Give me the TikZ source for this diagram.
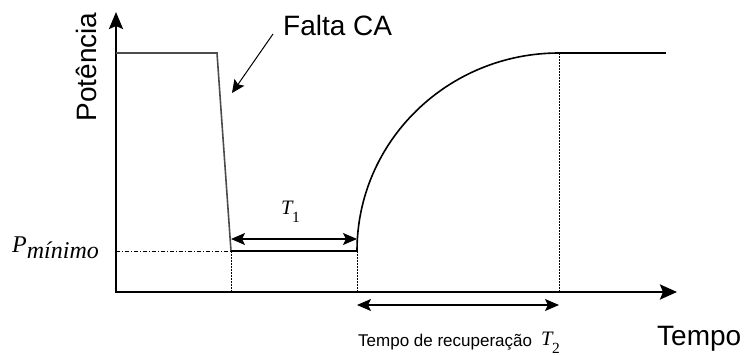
\documentclass[tikz,border=0pt]{standalone}
\usepackage{fontspec}
\setmainfont{Liberation Sans}
\newfontfamily\mathserif{Liberation Serif}
\usetikzlibrary{arrows.meta}
\newcommand{\varT}[1]{{\mathserif\itshape\fontsize{20.5}{22}\selectfont T\kern-0.5pt\raisebox{-8pt}{\fontsize{15.5}{17}\selectfont\upshape #1}}}
\begin{document}
\begin{tikzpicture}[x=1pt,y=-1pt,
  axis/.style={line width=2.6pt,line join=miter,{Stealth[length=17pt,width=14pt,inset=3pt]}-{Stealth[length=17pt,width=15pt,inset=3pt]}},
  curve/.style={line width=1.6pt},
  guide/.style={line width=0.8pt,dash pattern=on 2pt off 1pt},
  dimarrow/.style={line width=1.3pt,{Stealth[length=14pt,width=12pt,inset=3pt]}-{Stealth[length=14pt,width=12pt,inset=3pt]}},
  bigtext/.style={font=\fontsize{28}{32}\selectfont},
  smalltext/.style={font=\fontsize{17}{20}\selectfont}]
\useasboundingbox (0,0) rectangle (748,356);
% key points
\coordinate (O) at (116,292);
\coordinate (ytip) at (116,12);
\coordinate (xtip) at (677,292);
\coordinate (hl) at (116,53);
\coordinate (hr) at (217,53);
\coordinate (lA) at (231,251);
\coordinate (lB) at (357,251);
\coordinate (top) at (559,53);
\coordinate (fin) at (666,53);
\coordinate (pm) at (116,251);
\coordinate (t1a) at (231,239);
\coordinate (t1b) at (357,239);
\coordinate (t2a) at (357,305);
\coordinate (t2b) at (559,305);
\coordinate (fa1) at (273,34);
\coordinate (fa2) at (232,93);
% axes
\draw[axis] (ytip) -- (O) -- (xtip);
% power curve
\draw[curve,black!70] (hl) -- (hr) -- (lA);
\draw[curve] (lA) -- (lB);
\draw[curve] (lB) .. controls (357,141.6) and (447.4,53) .. (top);
\draw[line width=2.6pt] (top) -- (fin);
% guides
\draw[line width=0.8pt,dash pattern=on 4pt off 2pt on 1pt off 2pt] (pm) -- (lA);
\draw[guide] (lA) -- (lA |- O);
\draw[guide] (lB) -- (lB |- O);
\draw[guide] (top) -- (top |- O);
% dimension arrows
\draw[dimarrow] (t1a) -- (t1b);
\draw[dimarrow] (t2a) -- (t2b);
\draw[line width=1pt,-{Stealth[length=13pt,width=12pt,inset=2.5pt]}] (fa1) -- (fa2);
% labels
\node[bigtext,anchor=base west,inner sep=0pt] (falta) at (283,35) {Falta CA};
\node[bigtext,anchor=base,rotate=90,inner sep=0pt] (pot) at (96,67) {Potência};
\node[bigtext,anchor=base west,inner sep=0pt] (tempo) at (657,345) {Tempo};
\node[smalltext,anchor=base west,inner sep=0pt] (rec) at (358,346) {Tempo de recuperação};
\node[anchor=base west,inner sep=0pt] (T2) at (541,345) {\varT{2}};
\node[anchor=base west,inner sep=0pt] (T1) at (281,214) {\varT{1}};
\node[anchor=base west,inner sep=0pt] (pmin) at (12,252) {\mathserif\itshape\fontsize{24}{26}\selectfont P\raisebox{-6pt}{\fontsize{24}{26}\selectfont mínimo}};
\end{tikzpicture}
\end{document}
